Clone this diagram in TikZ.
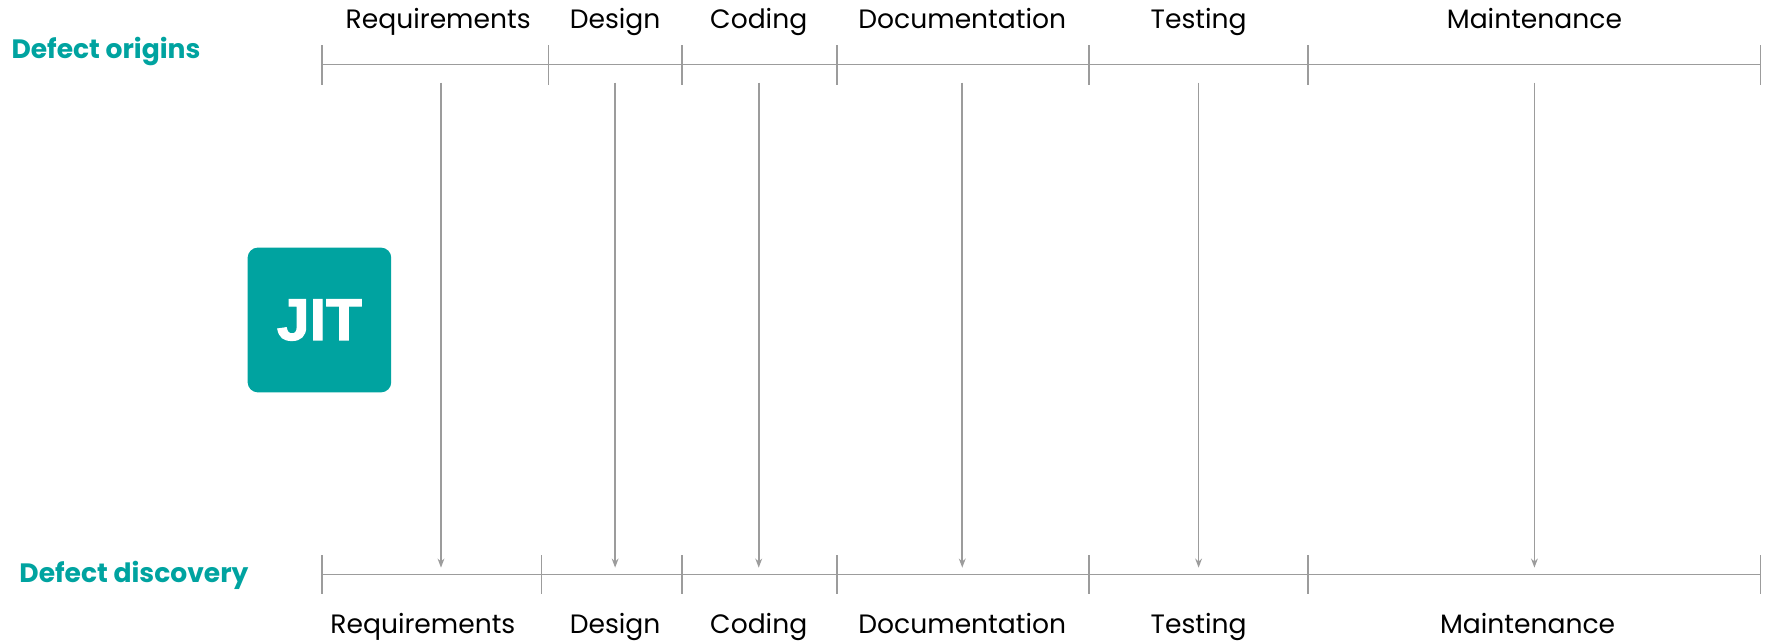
\documentclass[tikz,border=0pt]{standalone}
\usepackage{fontspec}
\setmainfont{Poppins}
\newfontfamily\jitfont[FakeBold=2]{Liberation Sans Bold}
\usetikzlibrary{arrows.meta}
\definecolor{teal1}{HTML}{00A3A0}
\definecolor{gline}{HTML}{9C9C9C}
\tikzset{
  axis/.style={draw=gline, line width=1.5pt},
  tick/.style={draw=gline, line width=1.5pt},
  flow/.style={draw=gline, line width=1.5pt, -{Stealth[length=8pt,width=6pt]}},
  phase/.style={font=\fontsize{23.5}{27}\selectfont, text=black, anchor=base, inner sep=0pt},
  head/.style={font=\fontsize{23.5}{27}\selectfont\bfseries, text=teal1, anchor=base west, inner sep=0pt},
}
\begin{document}
\begin{tikzpicture}[x=1pt,y=-1pt]
\useasboundingbox (0,0) rectangle (1568,569);
% top axis
\coordinate (tl) at (285,57); \coordinate (tr) at (1557,57);
\draw[axis] (tl) -- (tr);
\foreach \x/\n in {285/t0,485/t1,603/t2,740/t3,963/t4,1157/t5,1557/t6}{
  \coordinate (\n a) at (\x,40); \coordinate (\n b) at (\x,75);
  \draw[tick] (\n a) -- (\n b);
}
% bottom axis
\coordinate (bl) at (285,508); \coordinate (br) at (1557,508);
\draw[axis] (bl) -- (br);
\foreach \x/\n in {285/b0,479/b1,603/b2,740/b3,963/b4,1157/b5,1557/b6}{
  \coordinate (\n a) at (\x,491); \coordinate (\n b) at (\x,525);
  \draw[tick] (\n a) -- (\n b);
}
% arrows
\foreach \x/\n in {390/a1,544/a2,671/a3,851/a4,1060/a5,1357/a6}{
  \coordinate (\n s) at (\x,73); \coordinate (\n e) at (\x,502);
  \draw[flow] (\n s) -- (\n e);
}
% top labels
\node[phase] (tq) at (387.5,25) {Requirements};
\node[phase] (td) at (544,25) {Design};
\node[phase] (tc) at (671,25) {Coding};
\node[phase] (tdoc) at (851,25) {Documentation};
\node[phase] (tt) at (1060,25) {Testing};
\node[phase] (tm) at (1357,25) {Maintenance};
% bottom labels
\node[phase] (bq) at (374,560) {Requirements};
\node[phase] (bd) at (544,560) {Design};
\node[phase] (bc) at (671,560) {Coding};
\node[phase] (bdoc) at (851,560) {Documentation};
\node[phase] (bt) at (1060,560) {Testing};
\node[phase] (bm) at (1351,560) {Maintenance};
% headings
\node[head] (origins) at (10,52) {Defect origins};
\node[head] (discovery) at (17,515) {Defect discovery};
% JIT box
\node[fill=teal1, rounded corners=9pt, minimum width=127pt, minimum height=128pt, inner sep=0pt,
      text=white, font=\jitfont\fontsize{52}{60}\selectfont] (jit) at (282.5,283) {JIT};
\end{tikzpicture}
\end{document}
